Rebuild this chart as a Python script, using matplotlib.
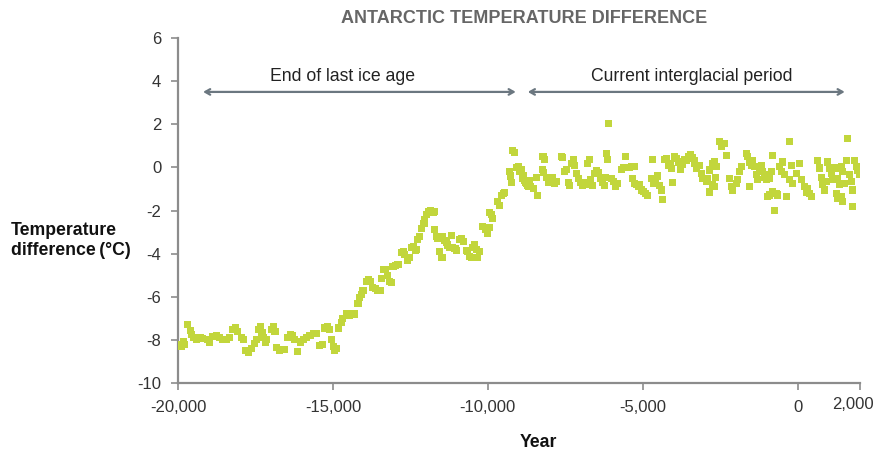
import matplotlib
matplotlib.use("Agg")
import matplotlib.pyplot as plt
import matplotlib.transforms as mtransforms
from matplotlib.ticker import FuncFormatter

plt.rcParams['font.family'] = ['Liberation Sans', 'DejaVu Sans']
plt.rcParams['axes.unicode_minus'] = False

# ice age end, -20000 .. -14800
years_a = [-19930, -19880, -19820, -19780, -19680, -19610, -19560, -19510, -19390, -19290,
           -19200, -19060, -18980, -18870, -18750, -18650, -18560, -18420, -18330, -18230,
           -18150, -18070, -17950, -17900, -17830, -17730, -17620, -17530, -17470, -17400,
           -17350, -17290, -17250, -17180, -17130, -16970, -16920, -16870, -16810, -16730,
           -16650, -16560, -16450, -16380, -16320, -16230, -16140, -16060, -15950, -15840,
           -15740, -15630, -15530, -15420, -15350, -15260, -15180, -15120, -15040, -14990,
           -14940, -14880]
temps_a = [-8.2, -8.3, -8.1, -8.2, -7.3, -7.55, -7.75, -7.9, -8.0, -7.9,
           -7.95, -8.0, -8.1, -7.85, -7.8, -7.9, -8.0, -8.0, -7.9, -7.5,
           -7.45, -7.6, -7.9, -8.0, -8.5, -8.6, -8.4, -8.15, -8.0, -7.5,
           -7.4, -7.65, -7.9, -8.1, -8.0, -7.5, -7.4, -7.6, -8.35, -8.5,
           -8.45, -8.45, -7.9, -7.75, -7.8, -8.0, -8.55, -8.1, -8.0, -7.9,
           -7.8, -7.7, -7.7, -8.25, -8.2, -7.45, -7.4, -7.5, -8.0, -8.3,
           -8.5, -8.4]

# warming, -14800 .. -8650
years_b = [-14810, -14710, -14680, -14550, -14460, -14380, -14290, -14190, -14130, -14080,
           -14030, -13900, -13850, -13800, -13710, -13620, -13550, -13480, -13420, -13370,
           -13320, -13230, -13160, -13100, -13060, -12980, -12900, -12770, -12720, -12680,
           -12580, -12520, -12450, -12400, -12340, -12290, -12260, -12200, -12130, -12060,
           -12030, -11970, -11920, -11860, -11800, -11750, -11710, -11710, -11640, -11610,
           -11550, -11480, -11450, -11400, -11340, -11290, -11230, -11180, -11130, -11060,
           -11000, -10900, -10850, -10800, -10680, -10650, -10580, -10520, -10480, -10420,
           -10370, -10320, -10260, -10160, -10090, -10020, -9960, -9940, -9890, -9840,
           -9680, -9610, -9550, -9500, -9450, -9290, -9260, -9230, -9190, -9130,
           -9060, -9010, -8970, -8870, -8800, -8720, -8680, -8650]
temps_b = [-7.45, -7.2, -7.0, -6.8, -6.85, -6.8, -6.8, -6.3, -6.05, -5.9,
           -5.7, -5.3, -5.2, -5.3, -5.55, -5.6, -5.7, -5.7, -5.15, -4.75,
           -4.75, -5.0, -5.3, -5.35, -4.6, -4.55, -4.5, -3.95, -3.9, -4.05,
           -4.3, -4.2, -3.7, -3.65, -3.85, -3.8, -3.35, -3.2, -2.85, -2.6,
           -2.4, -2.2, -2.05, -2.0, -2.05, -2.1, -2.05, -2.9, -3.2, -3.3,
           -3.9, -4.2, -3.2, -3.4, -3.5, -3.6, -3.7, -3.15, -3.7, -3.75,
           -3.85, -3.35, -3.3, -3.45, -3.85, -3.9, -4.15, -4.2, -3.7, -3.6,
           -3.8, -4.2, -3.9, -2.75, -2.9, -3.05, -2.8, -2.1, -2.2, -2.35,
           -1.6, -1.75, -1.3, -1.2, -1.15, -0.2, -0.4, -0.7, 0.8, 0.7,
           0.0, 0.05, -0.2, -0.5, -0.6, -0.85, -0.9, -0.6]

# current interglacial, -8900 .. 2000
years_c = [-8900, -8840, -8780, -8740, -8640, -8530, -8400, -8420, -8220, -8160,
           -8250, -8200, -8100, -8040, -7970, -7900, -7840, -7770, -7610, -7580,
           -7520, -7460, -7400, -7350, -7290, -7240, -7190, -7130, -7060, -7000,
           -6940, -6880, -6820, -6740, -6680, -6610, -6770, -6710, -6550, -6480,
           -6420, -6350, -6290, -6230, -6190, -6160, -6130, -6110, -6000, -5940,
           -5870, -5810, -5680, -5620, -5550, -5480, -5420, -5350, -5280, -5330,
           -5260, -5200, -5140, -5100, -5030, -4970, -4900, -4840, -4680, -4710,
           -4640, -4580, -4510, -4450, -4390, -4350, -4290, -4220, -4160, -4100,
           -4060, -4030, -3970, -3900, -3840, -3780, -3710, -3650, -3580, -3520,
           -3450, -3390, -3330,
           -3483, -3386, -3322, -3257, -3161, -3096, -3064, -2935, -2902, -2838,
           -2741, -2677, -2612, -2660, -2741, -2700, -2838, -2515, -2451, -2354,
           -2289, -2193, -2128, -2096, -1967, -1934, -1870, -1806, -1645, -1612,
           -1548, -1483, -1451, -1386, -1322, -1289, -1225, -1161, -1128, -1064,
           -999, -967, -903, -838, -806, -1548, -967, -903, -806, -741,
           -677, -644, -580, -515, -483, -418, -354, -257, -257, -193,
           -161, -32, 65, 129, 226, 291, 323, 388, 452, 646,
           710, 775, 807, 872, 936, 969, 1033, 1098, 1130, 1259,
           1292, 1356, 1420, 1453, 1517, 1582, 1614, 1678, 1743, 1775,
           1840, 1904, 1936, 1990, 1990, 1259, 1292, 1420, 1453, 1775]
temps_c = [-0.1, -0.4, -0.7, -0.75, -0.9, -1.0, -1.3, -0.45, 0.5, 0.35,
           -0.1, -0.25, -0.45, -0.7, -0.6, -0.45, -0.75, -0.65, 0.5, 0.45,
           -0.2, -0.1, -0.7, -0.85, 0.2, 0.35, 0.1, -0.3, -0.5, -0.7,
           -0.85, -0.7, -0.8, -0.7, -0.55, -0.85, 0.2, 0.35, -0.3, -0.15,
           -0.25, -0.5, -0.7, -0.85, -0.45, 0.65, 0.35, 2.05, -0.5, -0.65,
           -0.9, -0.75, -0.1, 0.0, 0.5, 0.0, 0.0, 0.05, 0.05, -0.5,
           -0.75, -0.8, -0.9, -0.8, -1.05, -1.1, -1.2, -1.3, 0.35, -0.5,
           -0.75, -0.6, -0.4, -0.85, -1.05, -1.5, 0.35, 0.4, 0.1, 0.2,
           -0.05, -0.7, 0.5, 0.4, 0.25, -0.1, 0.15, 0.35, 0.3, 0.5,
           0.6, 0.45, 0.3,
           0.5, 0.43, 0.2, -0.03, 0.1, -0.27, -0.5, -0.66, -0.5, -0.12,
           0.2, 0.25, 0.02, -0.45, -0.8, -0.9, -1.14, 1.2, 0.96, 1.1,
           0.57, -0.5, -0.9, -1.05, -0.73, -0.58, -0.2, 0.02, 0.66, 0.5,
           0.25, 0.1, 0.34, 0.02, -0.35, -0.58, -0.12, 0.1, -0.2, -0.45,
           -0.58, -0.35, -0.5, -0.2, 0.57, -0.9, -1.37, -1.28, -1.14, -1.98,
           -1.2, -1.28, 0.02, -0.2, 0.25, -0.35, -1.37, 1.2, -0.58, 0.1,
           -0.73, -0.27, 0.2, -0.58, -0.9, -1.14, -0.97, -1.2, -1.37, 0.34,
           -0.03, -0.45, -0.8, -1.05, -0.66, 0.25, -0.03, -0.27, -0.58, -0.03,
           -0.5, -0.8, 0.02, -0.2, -0.73, 0.34, 1.35, -0.35, -0.66, -1.05,
           0.34, 0.02, -0.12, -0.35, 0.02, -1.2, -1.42, -1.37, -1.6, -1.83]

x_ticks = [-20000, -15000, -10000, -5000, 0, 2000]
y_ticks = [-10, -8, -6, -4, -2, 0, 2, 4, 6]

fig = plt.figure(figsize=(8.79, 4.51), dpi=100)
ax = fig.add_axes([0.2025, 0.1508, 0.7755, 0.7649])

green = '#c2d63c'
for xs, ys in [(years_a, temps_a), (years_b, temps_b), (years_c, temps_c)]:
    ax.scatter(xs, ys, marker='s', s=26, color=green, edgecolors='none', zorder=3)

ax.set_xlim(-20000, 2000)
ax.set_ylim(-10, 6)
ax.set_xticks(x_ticks)
ax.set_yticks(y_ticks)
ax.xaxis.set_major_formatter(FuncFormatter(lambda v, p: '{:,.0f}'.format(v)))

for side in ['top', 'right']:
    ax.spines[side].set_visible(False)
for side in ['left', 'bottom']:
    ax.spines[side].set_color('#8c8c8c')
    ax.spines[side].set_linewidth(1.6)
ax.tick_params(colors='#8c8c8c', width=1.2, length=5, labelcolor='#333333', labelsize=12)
ax.tick_params(axis='x', pad=7)
ax.tick_params(axis='y', pad=7)

# the last year label sits a little left and up, as in the original
last = ax.get_xticklabels()[-1]
last.set_transform(last.get_transform() + mtransforms.ScaledTranslation(-0.07, 0.03, fig.dpi_scale_trans))

# period arrows
arrow_style = dict(arrowstyle='<->,head_length=0.35,head_width=0.2', color='#6b7780', lw=1.6,
                   shrinkA=0, shrinkB=0)
ax.annotate('', xy=(-9100, 3.5), xytext=(-19190, 3.5), arrowprops=arrow_style)
ax.annotate('', xy=(1517, 3.5), xytext=(-8710, 3.5), arrowprops=arrow_style)
ax.text(-14680, 4.2, 'End of last ice age', ha='center', va='center', fontsize=12.7, color='#222222')
ax.text(-3420, 4.2, 'Current interglacial period', ha='center', va='center', fontsize=12.7, color='#222222')

fig.text(0.596, 0.96, 'ANTARCTIC TEMPERATURE DIFFERENCE', ha='center', va='center',
         fontsize=13, fontweight='bold', color='#666666')
fig.text(0.012, 0.466, 'Temperature\ndifference\u2009(°C)', ha='left', va='center',
         fontsize=12.7, fontweight='bold', color='#111111', linespacing=1.25,
         family=['Liberation Sans', 'DejaVu Sans'])
fig.text(0.612, 0.018, 'Year', ha='center', va='center', fontsize=12.7, fontweight='bold', color='#111111')

fig.savefig('out.png', dpi=100)
